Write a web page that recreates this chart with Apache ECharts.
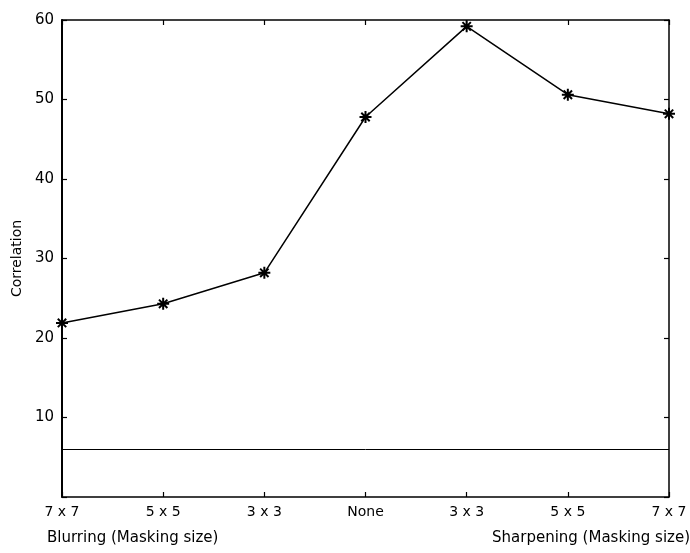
<!DOCTYPE html>
<html>
<head>
<meta charset="utf-8">
<script src="https://cdn.jsdelivr.net/npm/echarts@6/dist/echarts.min.js"></script>
<style>
  html, body { margin: 0; padding: 0; background: #fff; }
  #chart { width: 690px; height: 553px; }
</style>
</head>
<body>
<div id="chart"></div>
<script>
// Masking sizes along the x axis (blurring on the left, sharpening on the right)
const categories = ['7 x 7', '5 x 5', '3 x 3', 'None', '3 x 3', '5 x 5', '7 x 7'];
// Correlation for each masking setting
const correlation = [21.9, 24.3, 28.2, 47.8, 59.2, 50.6, 48.2];
// Reference level drawn as a horizontal line
const baseline = 6;
const yTicks = [0, 10, 20, 30, 40, 50, 60];

const FONT = 'DejaVu Sans';
const chart = echarts.init(document.getElementById('chart'));

// eight-armed asterisk marker
const asterisk = 'path://M0,5L10,5M5,0L5,10M1.5,1.5L8.5,8.5M1.5,8.5L8.5,1.5';

const tickStyle = { show: true, inside: true, length: 5, lineStyle: { color: '#000', width: 1.2 } };
const lineStyle = w => ({ show: true, onZero: false, lineStyle: { color: '#000', width: w } });

chart.setOption({
  backgroundColor: '#ffffff',
  animation: false,
  grid: { left: 62, right: 21, top: 20, bottom: 56, containLabel: false },
  xAxis: [
    {
      type: 'value', position: 'bottom',
      min: 0, max: categories.length - 1, interval: 1,
      axisLine: lineStyle(1.5),
      axisTick: tickStyle,
      axisLabel: {
        color: '#000', fontFamily: FONT, fontSize: 14, margin: 8,
        formatter: v => categories[v] || ''
      },
      splitLine: { show: false }
    },
    {
      type: 'value', position: 'top',
      min: 0, max: categories.length - 1, interval: 1,
      axisLine: lineStyle(1.5),
      axisTick: tickStyle,
      axisLabel: { show: false },
      splitLine: { show: false }
    }
  ],
  yAxis: [
    {
      type: 'value', position: 'left',
      min: yTicks[0], max: yTicks[yTicks.length - 1], interval: 10,
      name: 'Correlation', nameLocation: 'middle', nameGap: 38, nameRotate: 90,
      nameTextStyle: { color: '#000', fontFamily: FONT, fontSize: 14 },
      axisLine: lineStyle(2),
      axisTick: tickStyle,
      axisLabel: {
        color: '#000', fontFamily: FONT, fontSize: 15, margin: 8,
        formatter: v => (v === 0 ? '' : String(v))
      },
      splitLine: { show: false }
    },
    {
      type: 'value', position: 'right',
      min: yTicks[0], max: yTicks[yTicks.length - 1], interval: 10,
      axisLine: lineStyle(1.5),
      axisTick: tickStyle,
      axisLabel: { show: false },
      splitLine: { show: false }
    }
  ],
  series: [
    {
      type: 'line',
      data: correlation.map((v, i) => [i, v]),
      lineStyle: { color: '#000', width: 1.5 },
      symbol: asterisk,
      symbolSize: 12,
      itemStyle: { color: '#000', borderColor: '#000', borderWidth: 2 },
      z: 5,
      markLine: {
        silent: true,
        symbol: ['none', 'none'],
        label: { show: false },
        lineStyle: { color: '#000', type: 'solid', width: 1 },
        data: [{ yAxis: baseline }]
      }
    }
  ],
  graphic: [
    {
      type: 'text', left: 47, top: 531,
      style: { text: 'Blurring (Masking size)', fill: '#000', font: '15px "' + FONT + '"' }
    },
    {
      type: 'text', right: 0, top: 531,
      style: { text: 'Sharpening (Masking size)', fill: '#000', font: '15px "' + FONT + '"' }
    }
  ]
});
</script>
</body>
</html>
